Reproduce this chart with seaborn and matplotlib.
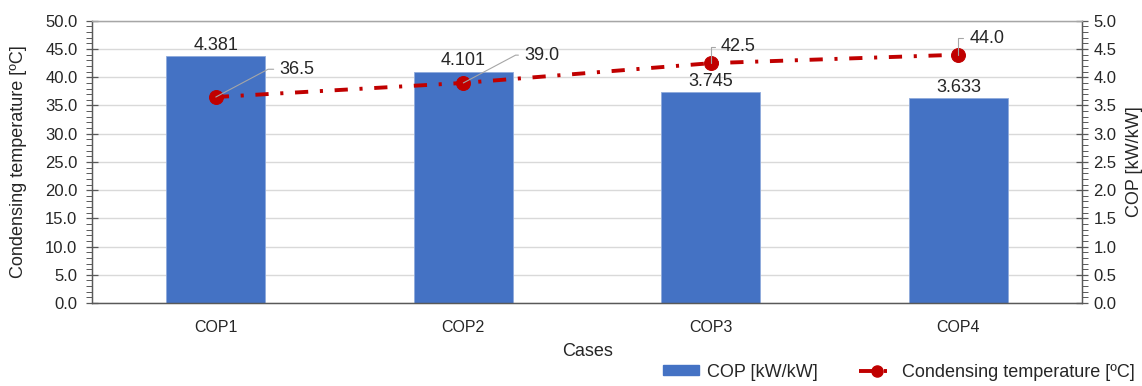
import matplotlib
matplotlib.use("Agg")
import matplotlib.pyplot as plt
from matplotlib.ticker import MultipleLocator, FormatStrFormatter
from matplotlib.patches import Patch
from matplotlib.lines import Line2D
import seaborn as sns
import pandas as pd

cases = ["COP1", "COP2", "COP3", "COP4"]
cop = [4.381, 4.101, 3.745, 3.633]
cond_temp = [36.5, 39.0, 42.5, 44.0]

sns.set_theme(style="white")
plt.rcParams["font.family"] = ["Liberation Sans", "DejaVu Sans"]
plt.rcParams["font.size"] = 12

BLUE = "#4472C4"
RED = "#C00000"
AXIS = "#595959"
GRID = "#D9D9D9"
TEXT = "#262626"
DASHDOT = (0, (3.4, 3.0, 0.8, 3.0))

df = pd.DataFrame({"case": cases, "cop": cop, "temp": cond_temp})

fig = plt.figure(figsize=(11.42, 3.86), dpi=100)
ax = fig.add_axes([0.0806, 0.215, 0.867, 0.731])   # condensing temperature (left)
ax2 = ax.twinx()                                     # COP (right)

# bars on the COP axis
sns.barplot(data=df, x="case", y="cop", ax=ax2, color=BLUE, width=0.4,
            saturation=1, edgecolor="#8FAADC", linewidth=0.6, zorder=2)
for i, v in enumerate(cop):
    ax2.annotate(f"{v:.3f}", xy=(i, v), xytext=(0, 1.5), textcoords="offset points",
                 ha="center", va="bottom", fontsize=13, color=TEXT)

# line on the temperature axis, kept above the bars
ax.set_zorder(ax2.get_zorder() + 1)
ax.patch.set_visible(False)
sns.lineplot(data=df, x="case", y="temp", ax=ax, color=RED, lw=2.8,
             linestyle=DASHDOT, marker="o", markersize=10,
             markeredgecolor=RED, sort=False)

# value labels with leader lines
label_offsets = [(46, 20, 28), (44, 20, 28), (7, 12, 90), (8, 12, 90)]
for i, (v, (dx, dy, ang)) in enumerate(zip(cond_temp, label_offsets)):
    ax.annotate(f"{v:.1f}", xy=(i, v), xytext=(dx, dy), textcoords="offset points",
                ha="left", va="center", fontsize=13, color=TEXT,
                arrowprops=dict(arrowstyle="-", color="#A6A6A6", lw=0.8,
                                relpos=(0, 0.5), shrinkA=2, shrinkB=0,
                                connectionstyle=f"angle,angleA=0,angleB={ang},rad=0"))

# axes scales
ax.set_ylim(0, 50)
ax2.set_ylim(0, 5)
ax.set_xlim(-0.5, 3.5)
ax.yaxis.set_major_locator(MultipleLocator(5))
ax.yaxis.set_minor_locator(MultipleLocator(1))
ax.yaxis.set_major_formatter(FormatStrFormatter("%.1f"))
ax2.yaxis.set_major_locator(MultipleLocator(0.5))
ax2.yaxis.set_minor_locator(MultipleLocator(0.1))
ax2.yaxis.set_major_formatter(FormatStrFormatter("%.1f"))

ax2.grid(axis="y", which="major", color=GRID, lw=1.0)
ax2.set_axisbelow(True)
ax.grid(False)

for a in (ax, ax2):
    a.tick_params(axis="y", which="major", direction="inout", length=9, width=0.9,
                  color=AXIS, labelsize=12, labelcolor=TEXT)
    a.tick_params(axis="y", which="minor", direction="out", length=4, width=0.7, color=AXIS)
    a.tick_params(axis="x", length=0, labelsize=11.5, labelcolor=TEXT, pad=12)
    for s in a.spines.values():
        s.set_color(AXIS)
        s.set_linewidth(0.9)
    a.spines["top"].set_color("#A6A6A6")

ax.tick_params(axis="y", which="both", left=True, pad=6)
ax2.tick_params(axis="y", which="both", right=True, pad=3.5)

ax.set_xlabel("Cases", fontsize=13, color=TEXT, labelpad=6)
ax2.set_xlabel("")
ax.set_ylabel("Condensing temperature [ºC]", fontsize=13, color=TEXT)
ax2.set_ylabel("COP [kW/kW]", fontsize=13, color=TEXT)
ax.yaxis.set_label_coords(-0.0657, 0.5)
ax2.yaxis.set_label_coords(1.044, 0.5)

handles = [Patch(facecolor=BLUE, edgecolor=BLUE),
           Line2D([0], [0], color=RED, lw=2.8, linestyle=DASHDOT,
                  marker="o", markersize=8)]
fig.legend(handles, ["COP [kW/kW]", "Condensing temperature [ºC]"], ncol=2,
           loc="lower right", bbox_to_anchor=(1.008, -0.028), frameon=False,
           fontsize=13, handlelength=2.0, handleheight=0.5, columnspacing=2.3,
           handletextpad=0.4)

fig.savefig("out.png", dpi=100)
